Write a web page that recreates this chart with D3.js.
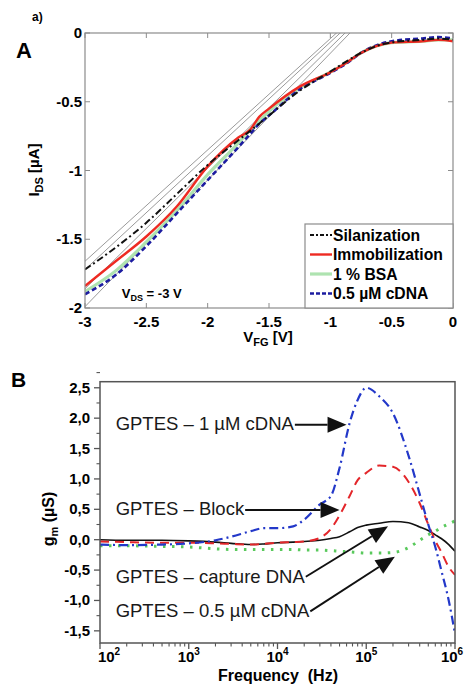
<!DOCTYPE html>
<html><head><meta charset="utf-8">
<script src="https://cdn.jsdelivr.net/npm/d3@7"></script>
<style>
body{margin:0;background:#fff}
svg{display:block}
text{font-family:Arial,"Liberation Sans",sans-serif}
</style>
</head><body>
<svg id="c" width="469" height="686"></svg>
<script>
// ---------- Panel A data ----------
const vfg = [-3,-2.75,-2.5,-2.25,-2,-1.75,-1.65,-1.58,-1.5,-1.25,-1,-0.875,-0.75,-0.625,-0.5,-0.25,-0.12,0];
const silanization   = [-1.72,-1.56,-1.38,-1.17,-0.96,-0.78,-0.71,-0.66,-0.60,-0.42,-0.28,-0.21,-0.145,-0.095,-0.068,-0.05,-0.04,-0.05];
const immobilization = [-1.84,-1.66,-1.48,-1.26,-0.97,-0.76,-0.70,-0.61,-0.55,-0.39,-0.285,-0.22,-0.145,-0.095,-0.07,-0.06,-0.05,-0.06];
const bsa            = [-1.88,-1.73,-1.52,-1.29,-1.03,-0.80,-0.70,-0.64,-0.57,-0.40,-0.285,-0.22,-0.145,-0.095,-0.07,-0.06,-0.05,-0.05];
const cdna05         = [-1.90,-1.76,-1.55,-1.31,-1.07,-0.83,-0.73,-0.66,-0.60,-0.41,-0.29,-0.225,-0.145,-0.09,-0.06,-0.04,-0.03,-0.04];
// fitted tangent lines: I at V=-3 and V where I reaches 0
const fitStartI = [-1.66,-1.72,-1.86,-1.99];
const fitZeroV  = [-0.95,-0.92,-0.88,-0.84];
const legendA = ["Silanization","Immobilization","1 % BSA","0.5 µM cDNA"];
const xTicksA = [-3,-2.5,-2,-1.5,-1,-0.5,0];
const yTicksA = [0,-0.5,-1,-1.5,-2];

// ---------- Panel B data ----------
const freq = [1e2,2e2,5e2,1e3,2e3,3e3,5e3,7e3,1e4,1.5e4,2e4,3e4,4e4,5e4,6.5e4,8e4,1e5,1.4e5,2e5,3e5,4e5,5e5,6e5,7e5,8.5e5,1e6];
const gm1uM    = [-0.08,-0.09,-0.08,-0.06,-0.01,0.05,0.14,0.19,0.19,0.22,0.33,0.58,0.72,1.18,1.92,2.30,2.50,2.36,2.08,1.38,0.75,0.25,-0.12,-0.50,-1.00,-1.55];
const gmBlock  = [-0.03,-0.04,-0.05,-0.05,-0.06,-0.07,-0.08,-0.07,-0.05,-0.04,-0.03,0.03,0.18,0.40,0.72,0.98,1.10,1.22,1.20,0.95,0.60,0.25,-0.02,-0.20,-0.45,-0.58];
const gmCapture= [0.00,-0.01,-0.01,-0.02,-0.04,-0.06,-0.08,-0.07,-0.05,-0.04,-0.03,-0.01,0.02,0.05,0.13,0.20,0.24,0.27,0.30,0.28,0.21,0.15,0.08,0.02,-0.08,-0.19];
const gm05uM   = [-0.10,-0.10,-0.11,-0.12,-0.15,-0.16,-0.16,-0.16,-0.16,-0.16,-0.17,-0.17,-0.18,-0.19,-0.20,-0.21,-0.22,-0.22,-0.21,-0.13,-0.01,0.08,0.14,0.20,0.26,0.31];
const yTicksB = [-1.5,-1.0,-0.5,0,0.5,1.0,1.5,2.0,2.5];
const xDecadesB = [2,3,4,5,6];
// annotations: label, text anchor (freq, gm), arrow tip (freq, gm)
const annLabels = ["GPTES – 1 µM cDNA","GPTES – Block","GPTES – capture DNA","GPTES – 0.5 µM cDNA"];
const annText   = [[150,1.81],[150,0.40],[150,-0.71],[150,-1.27]];
const annTip    = [[6.0e4,1.89],[5.0e4,0.49],[1.76e5,0.22],[2.1e5,-0.28]];
const annStartY = [1.89,0.49,-0.61,-1.18];

const svg = d3.select("#c");

// ================= Panel A =================
const xA = d3.scaleLinear().domain([-3,0]).range([85,453]);
const yA = d3.scaleLinear().domain([-2,0]).range([308,33]);
const gA = svg.append("g");
gA.append("defs").append("clipPath").attr("id","clipA")
  .append("rect").attr("x",xA(-3)).attr("y",yA(0)).attr("width",xA(0)-xA(-3)).attr("height",yA(-2)-yA(0));

const frameA = "#8c8c8c";
xTicksA.forEach(v=>{
  gA.append("line").attr("x1",xA(v)).attr("x2",xA(v)).attr("y1",yA(-2)).attr("y2",yA(-2)-5).attr("stroke",frameA);
  gA.append("line").attr("x1",xA(v)).attr("x2",xA(v)).attr("y1",yA(0)).attr("y2",yA(0)+5).attr("stroke",frameA);
});
yTicksA.forEach(v=>{
  gA.append("line").attr("x1",xA(-3)).attr("x2",xA(-3)+5).attr("y1",yA(v)).attr("y2",yA(v)).attr("stroke",frameA);
  gA.append("line").attr("x1",xA(0)).attr("x2",xA(0)-5).attr("y1",yA(v)).attr("y2",yA(v)).attr("stroke",frameA);
});

const plotA = gA.append("g").attr("clip-path","url(#clipA)");
fitStartI.forEach((i0,k)=>{
  const slope = (0 - i0)/(fitZeroV[k] - (-3));
  plotA.append("line").attr("x1",xA(-3)).attr("y1",yA(i0))
    .attr("x2",xA(0)).attr("y2",yA(i0 + slope*3))
    .attr("stroke","#9a9a9a").attr("stroke-width",1);
});
const lineA = d3.line().x((d,i)=>xA(vfg[i])).y(d=>yA(d)).curve(d3.curveMonotoneX);
const seriesA = [
  {d:bsa, c:"#aee3b0", w:3.2, dash:null, ld:null},
  {d:cdna05, c:"#1c1ca0", w:2.6, dash:"5,3", ld:"4,2"},
  {d:immobilization, c:"#ee2a22", w:2.4, dash:null, ld:null},
  {d:silanization, c:"#111", w:2, dash:"7,3,2,3", ld:"4,2,2,2"}
];
seriesA.forEach(s=>{
  plotA.append("path").attr("d",lineA(s.d)).attr("fill","none").attr("stroke",s.c)
    .attr("stroke-width",s.w).attr("stroke-dasharray",s.dash);
});

gA.append("rect").attr("x",xA(-3)).attr("y",yA(0)).attr("width",xA(0)-xA(-3)).attr("height",yA(-2)-yA(0))
  .attr("fill","none").attr("stroke",frameA).attr("stroke-width",1.2);

xTicksA.forEach(v=>{
  gA.append("text").attr("x",xA(v)).attr("y",327).attr("text-anchor","middle")
    .attr("font-size",15).attr("font-weight","bold").text(d3.format("")(v).replace("−","-"));
});
yTicksA.forEach(v=>{
  gA.append("text").attr("x",82).attr("y",yA(v)+5).attr("text-anchor","end")
    .attr("font-size",15).attr("font-weight","bold").text(d3.format("")(v).replace("−","-"));
});
const xtA = gA.append("text").attr("x",268).attr("y",342).attr("text-anchor","middle")
  .attr("font-size",15).attr("font-weight","bold");
xtA.append("tspan").text("V");
xtA.append("tspan").attr("font-size",11).attr("dy",4).text("FG");
xtA.append("tspan").attr("dy",-4).text(" [V]");
const ytA = gA.append("text").attr("transform","translate(39,170) rotate(-90)").attr("text-anchor","middle")
  .attr("font-size",15).attr("font-weight","bold");
ytA.append("tspan").text("I");
ytA.append("tspan").attr("font-size",11).attr("dy",4).text("DS");
ytA.append("tspan").attr("dy",-4).text(" [µA]");

const vds = gA.append("text").attr("x",xA(-2.7)).attr("y",yA(-1.93)).attr("font-size",13).attr("font-weight","bold");
vds.append("tspan").text("V");
vds.append("tspan").attr("font-size",9).attr("dy",3).text("DS");
vds.append("tspan").attr("dy",-3).text(" = -3 V");

const lg = gA.append("g");
lg.append("rect").attr("x",305).attr("y",224).attr("width",xA(0)-305).attr("height",yA(-2)-224)
  .attr("fill","#fff").attr("stroke",frameA).attr("stroke-width",1.2);
const legSeries = [seriesA[3],seriesA[2],seriesA[0],seriesA[1]];
legendA.forEach((t,i)=>{
  const yy = 235 + i*19.5;
  const s = legSeries[i];
  lg.append("line").attr("x1",310).attr("x2",332).attr("y1",yy).attr("y2",yy)
    .attr("stroke",s.c).attr("stroke-width",s.w).attr("stroke-dasharray",s.ld);
  lg.append("text").attr("x",333).attr("y",yy+5.5).attr("font-size",15.7).attr("font-weight","bold").text(t);
});

svg.append("text").attr("x",32).attr("y",21).attr("font-size",12).attr("font-weight","bold").text("a)");
svg.append("text").attr("x",16).attr("y",58).attr("font-size",22).attr("font-weight","bold").text("A");
svg.append("text").attr("x",11).attr("y",387).attr("font-size",21).attr("font-weight","bold").text("B");

// ================= Panel B =================
const xB = d3.scaleLog().domain([1e2,1e6]).range([100,455]);
const yB = d3.scaleLinear().domain([-1.7,2.6]).range([643,381.7]);
const gB = svg.append("g");
gB.append("defs").append("clipPath").attr("id","clipB")
  .append("rect").attr("x",100).attr("y",yB(2.6)).attr("width",355).attr("height",yB(-1.7)-yB(2.6));
const frameB = "#555";

yTicksB.forEach(v=>{
  gB.append("line").attr("x1",xB(1e2)).attr("x2",xB(1e2)-6).attr("y1",yB(v)).attr("y2",yB(v)).attr("stroke",frameB).attr("stroke-width",1.3);
  gB.append("line").attr("x1",xB(1e2)).attr("x2",xB(1e2)-3.5).attr("y1",yB(v+0.25)).attr("y2",yB(v+0.25)).attr("stroke",frameB).attr("stroke-width",1.1);
  gB.append("text").attr("x",90).attr("y",yB(v)+5).attr("text-anchor","end")
    .attr("font-size",15).attr("font-weight","bold").text(d3.format(".1f")(v).replace(".",",").replace("−","-"));
});
xDecadesB.forEach(p=>{
  const f = Math.pow(10,p);
  gB.append("line").attr("x1",xB(f)).attr("x2",xB(f)).attr("y1",yB(-1.7)).attr("y2",yB(-1.7)+6).attr("stroke",frameB).attr("stroke-width",1.3);
  if(p<6){
    for(let m=2;m<=9;m++){
      gB.append("line").attr("x1",xB(m*f)).attr("x2",xB(m*f)).attr("y1",yB(-1.7)).attr("y2",yB(-1.7)+3.5).attr("stroke",frameB).attr("stroke-width",1.1);
    }
  }
  const t = gB.append("text").attr("x",xB(f)+(p===2?9:(p===6?-3:0))).attr("y",662).attr("text-anchor","middle")
    .attr("font-size",15).attr("font-weight","bold");
  t.append("tspan").text("10");
  t.append("tspan").attr("font-size",10).attr("dy",-7).text(p);
});

const plotB = gB.append("g").attr("clip-path","url(#clipB)");
const lineB = d3.line().x((d,i)=>xB(freq[i])).y(d=>yB(d)).curve(d3.curveMonotoneX);
const seriesB = [
  {d:gm05uM, c:"#59c95c", w:3, dash:"2.5,6.5"},
  {d:gmCapture, c:"#111", w:1.6, dash:null},
  {d:gmBlock, c:"#e3262a", w:2, dash:"9,6"},
  {d:gm1uM, c:"#2338c9", w:2.2, dash:"9,4,2,4"}
];
seriesB.forEach(s=>{
  plotB.append("path").attr("d",lineB(s.d)).attr("fill","none").attr("stroke",s.c)
    .attr("stroke-width",s.w).attr("stroke-dasharray",s.dash);
});

gB.append("rect").attr("x",100).attr("y",yB(2.6)).attr("width",355).attr("height",yB(-1.7)-yB(2.6))
  .attr("fill","none").attr("stroke",frameB).attr("stroke-width",1.5);

annLabels.forEach((lab,i)=>{
  const tx = xB(annText[i][0]), ty = yB(annText[i][1]);
  const t = gB.append("text").attr("x",tx).attr("y",ty).attr("font-size",18.5).attr("fill","#1a1a1a").text(lab);
  const len = t.node().getComputedTextLength();
  const x0 = tx + len + 1, y0 = yB(annStartY[i]);
  const x1 = xB(annTip[i][0]), y1 = yB(annTip[i][1]);
  const ang = Math.atan2(y1-y0, x1-x0);
  const L = 19, W = 8;
  const bx = x1 - L*Math.cos(ang), by = y1 - L*Math.sin(ang);
  gB.append("line").attr("x1",x0).attr("y1",y0).attr("x2",bx).attr("y2",by).attr("stroke","#111").attr("stroke-width",2);
  const px = -Math.sin(ang)*W, py = Math.cos(ang)*W;
  gB.append("path").attr("d",`M${x1},${y1}L${bx+px},${by+py}L${bx-px},${by-py}Z`).attr("fill","#111");
});

const ytB = gB.append("text").attr("transform","translate(54,519) rotate(-90)").attr("text-anchor","middle")
  .attr("font-size",16).attr("font-weight","bold");
ytB.append("tspan").text("g");
ytB.append("tspan").attr("font-size",11).attr("dy",4).text("m");
ytB.append("tspan").attr("dy",-4).text(" (µS)");
gB.append("text").attr("x",278).attr("y",681).attr("text-anchor","middle").attr("font-size",16).attr("font-weight","bold")
  .attr("xml:space","preserve").text("Frequency  (Hz)");
</script>
</body></html>
